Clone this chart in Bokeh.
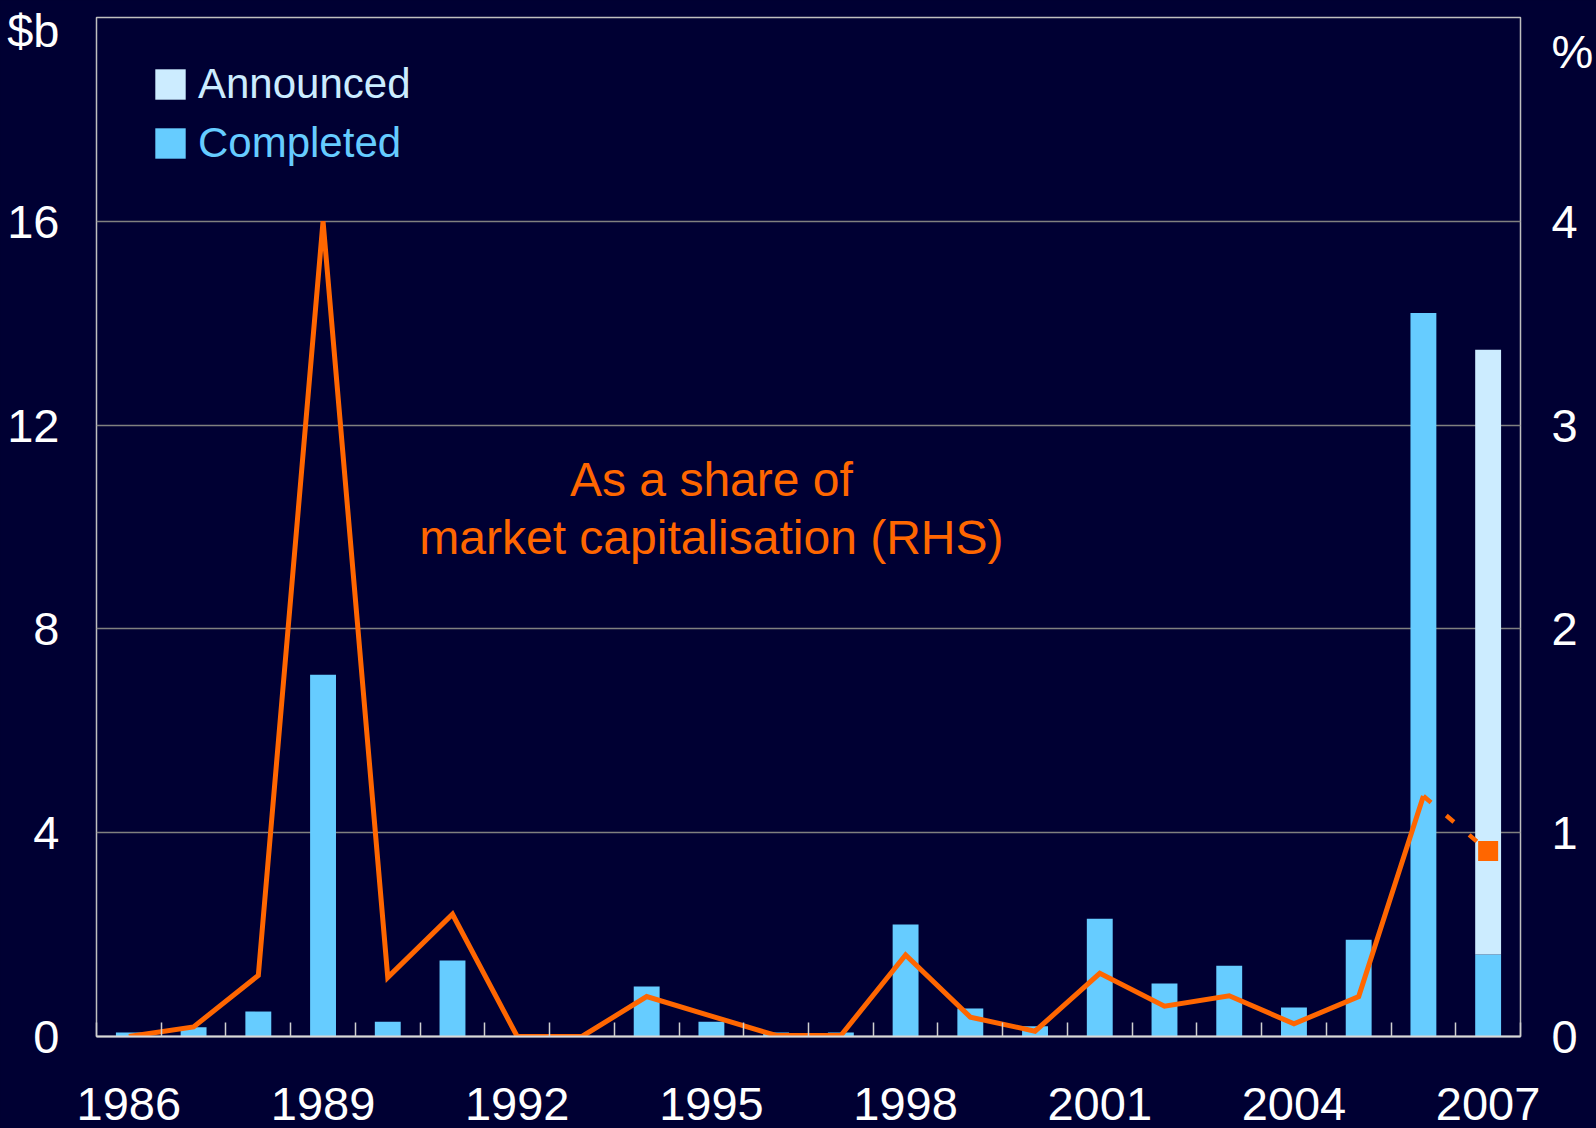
from bokeh.plotting import figure
from bokeh.models import (Range1d, LinearAxis, FixedTicker, Legend, LegendItem,
                          Label, ColumnDataSource, BasicTickFormatter)
from bokeh.embed import file_html
from bokeh.resources import INLINE

# ---------------- data ----------------
years = [1986, 1987, 1988, 1989, 1990, 1991, 1992, 1993, 1994, 1995, 1996,
         1997, 1998, 1999, 2000, 2001, 2002, 2003, 2004, 2005, 2006, 2007]
completed = [0.08, 0.18, 0.49, 7.1, 0.29, 1.49, 0.0, 0.0, 0.98, 0.29, 0.08,
             0.08, 2.2, 0.55, 0.2, 2.31, 1.04, 1.39, 0.57, 1.9, 14.2, 1.61]
announced = [0, 0, 0, 0, 0, 0, 0, 0, 0, 0, 0,
             0, 0, 0, 0, 0, 0, 0, 0, 0, 0, 11.87]
share_years = [1986, 1987, 1988, 1989, 1990, 1991, 1992, 1993, 1994, 1995, 1996,
               1997, 1998, 1999, 2000, 2001, 2002, 2003, 2004, 2005, 2006]
share = [0.0, 0.047, 0.30, 4.0, 0.29, 0.60, 0.0, 0.0, 0.196, 0.10, 0.005,
         0.005, 0.40, 0.095, 0.026, 0.31, 0.149, 0.20, 0.062, 0.196, 1.18]
est_years = [2006, 2007]
est_share = [1.18, 0.91]
left_ticks = [0, 4, 8, 12, 16]
right_ticks = [0, 1, 2, 3, 4]
year_ticks = [1986, 1989, 1992, 1995, 1998, 2001, 2004, 2007]
left_unit = "$b"
right_unit = "%"
left_unit_pos = 19.74   # $b, placed just below the top of the left scale
right_unit_pos = 4.835  # %, placed just below the top of the right scale

BG = "#000033"
C_COMP = "#66CCFF"
C_ANN = "#CCECFF"
ORANGE = "#FF6600"
FONT = "Liberation Sans"

top_total = [c + a for c, a in zip(completed, announced)]
src = ColumnDataSource(dict(year=years, completed=completed, top=top_total))

p = figure(width=1596, height=1128, output_backend="svg", toolbar_location=None,
           x_range=Range1d(1985.5, 2007.5), y_range=Range1d(0, 20),
           min_border_left=96, min_border_top=17, min_border_right=76,
           min_border_bottom=92)
p.extra_y_ranges = {"pct": Range1d(0, 5)}
p.background_fill_color = BG
p.border_fill_color = BG
p.outline_line_color = "#BFBFBF"
p.outline_line_width = 1.5

# bars
r_comp = p.vbar(x="year", bottom=0, top="completed", width=0.4, source=src,
                fill_color=C_COMP, line_color=None)
r_ann = p.vbar(x="year", bottom="completed", top="top", width=0.4, source=src,
               fill_color=C_ANN, line_color=None)

# share line
p.line(share_years, share, y_range_name="pct", line_color=ORANGE,
       line_width=5, line_join="miter")
p.line(est_years, est_share, y_range_name="pct", line_color=ORANGE,
       line_width=4.5, line_dash="10 20")
p.scatter(est_years[1:], est_share[1:], y_range_name="pct", marker="square",
          size=20, fill_color=ORANGE, line_color=None)

# axes
xa = p.xaxis[0]
xa.ticker = FixedTicker(ticks=year_ticks,
                        minor_ticks=[y - 0.5 for y in years] + [years[-1] + 0.5])
xa.formatter = BasicTickFormatter(use_scientific=False)
xa.major_tick_in = 0
xa.major_tick_out = 0
xa.minor_tick_in = 14
xa.minor_tick_out = 0
xa.minor_tick_line_color = "#D0D0D0"
xa.minor_tick_line_width = 1.5
xa.axis_line_color = "#D9D9D9"
xa.axis_line_width = 2
xa.major_label_text_font = FONT
xa.major_label_text_font_size = "47px"
xa.major_label_text_color = "white"
xa.major_label_standoff = 51

ya = p.yaxis[0]
ya.ticker = FixedTicker(ticks=left_ticks + [left_unit_pos])
ya.major_label_overrides = {left_unit_pos: left_unit}
ya.major_tick_in = 0
ya.major_tick_out = 0
ya.minor_tick_line_color = None
ya.axis_line_color = None
ya.major_label_text_font = FONT
ya.major_label_text_font_size = "47px"
ya.major_label_text_color = "white"
ya.major_label_standoff = 37

ra = LinearAxis(y_range_name="pct",
                ticker=FixedTicker(ticks=right_ticks + [right_unit_pos]))
ra.major_label_overrides = {right_unit_pos: right_unit}
ra.major_tick_in = 0
ra.major_tick_out = 0
ra.minor_tick_line_color = None
ra.axis_line_color = None
ra.major_label_text_font = FONT
ra.major_label_text_font_size = "47px"
ra.major_label_text_color = "white"
ra.major_label_standoff = 31
p.add_layout(ra, "right")

p.xgrid.grid_line_color = None
p.ygrid.ticker = FixedTicker(ticks=left_ticks[1:])
p.ygrid.grid_line_color = "#808080"
p.ygrid.grid_line_width = 1.5

# annotation
p.add_layout(Label(x=1995.0, y=10.94, text="As a share of", text_align="center",
                   text_baseline="alphabetic", text_color=ORANGE,
                   text_font=FONT, text_font_size="48px"))
p.add_layout(Label(x=1995.0, y=9.80, text="market capitalisation (RHS)",
                   text_align="center", text_baseline="alphabetic",
                   text_color=ORANGE, text_font=FONT, text_font_size="48px"))

# legends
def make_legend(label, renderer, color, loc):
    lg = Legend(items=[LegendItem(label=label, renderers=[renderer])],
                location=loc, padding=0, margin=0, spacing=0,
                glyph_width=38, glyph_height=38, label_standoff=9,
                border_line_color=None, background_fill_alpha=0,
                label_text_font=FONT, label_text_font_size="42px",
                label_text_color=color)
    return lg

p.add_layout(make_legend("Announced", r_ann, C_ANN, (55, 928)), "center")
p.add_layout(make_legend("Completed", r_comp, C_COMP, (55, 869)), "center")

html = file_html(p, INLINE)
html = html.replace("</head>", "<style>html,body{background:#000033;}</style></head>", 1)
open("out.html", "w").write(html)
